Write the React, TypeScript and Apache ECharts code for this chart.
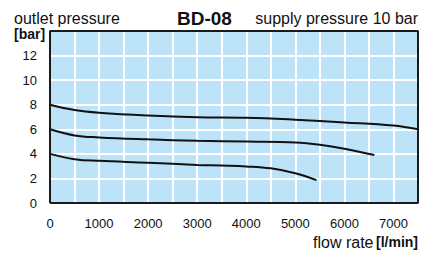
import React, { useEffect, useRef } from "react";
import * as echarts from "echarts";

const xTicks = [0, 1000, 2000, 3000, 4000, 5000, 6000, 7000];
const yTicks = [0, 2, 4, 6, 8, 10, 12];
const X_MAX = 7500;
const Y_MAX = 14;

const curve8: [number, number][] = [
  [0, 8.0], [500, 7.57], [1000, 7.35], [2000, 7.12], [3000, 6.98], [4000, 6.94],
  [5000, 6.78], [6000, 6.56], [7000, 6.3], [7500, 6.0],
];
const curve6: [number, number][] = [
  [0, 6.0], [500, 5.5], [1000, 5.34], [2000, 5.18], [3000, 5.06], [4000, 5.0],
  [5000, 4.92], [5500, 4.74], [6000, 4.42], [6610, 3.9],
];
const curve4: [number, number][] = [
  [0, 4.0], [500, 3.57], [1000, 3.43], [2000, 3.28], [3000, 3.1], [3500, 3.05],
  [4000, 2.98], [4500, 2.82], [5000, 2.42], [5430, 1.86],
];

const FONT = "'Liberation Sans', Arial, Helvetica, sans-serif";

export default function App() {
  const ref = useRef<HTMLDivElement>(null);
  useEffect(() => {
    if (!ref.current) return;
    const chart = echarts.init(ref.current, null, { renderer: "svg" });
    const line = (data: [number, number][]) => ({
      type: "line",
      data,
      smooth: 0.4,
      showSymbol: false,
      symbol: "none",
      lineStyle: { color: "#111", width: 2 },
      z: 5,
    });
    const splitWhite = { show: true, lineStyle: { color: "#fff", width: 2 } };
    const frameData: [number, number][] = [[0, 0], [X_MAX, 0], [X_MAX, Y_MAX], [0, Y_MAX], [0, 0]];
    chart.setOption({
      animation: false,
      backgroundColor: "#fff",
      grid: { left: 50, top: 31, width: 368, height: 172, show: true, backgroundColor: "#bde3f9", borderWidth: 0 },
      xAxis: {
        type: "value", min: 0, max: X_MAX, interval: 500,
        axisLine: { show: false }, axisTick: { show: false }, splitLine: splitWhite,
        axisLabel: {
          margin: 14, fontSize: 13, color: "#111", fontFamily: FONT,
          formatter: (v: number) => (xTicks.includes(v) ? String(v) : ""),
        },
      },
      yAxis: {
        type: "value", min: 0, max: Y_MAX, interval: 2,
        axisLine: { show: false }, axisTick: { show: false }, splitLine: splitWhite,
        axisLabel: {
          margin: 13, fontSize: 13, color: "#111", fontFamily: FONT,
          formatter: (v: number) => (yTicks.includes(v) ? String(v) : ""),
        },
      },
      graphic: {
        elements: [
          { type: "text", left: 14, top: 10, style: { text: "outlet pressure", font: `16px ${FONT}`, fill: "#111" } },
          { type: "text", left: 177, top: 9, style: { text: "BD-08", font: `bold 19px ${FONT}`, fill: "#111" } },
          { type: "text", right: 12, top: 10, style: { text: "supply pressure 10 bar", font: `16px ${FONT}`, fill: "#111" } },
          { type: "text", left: 14, top: 27, style: { text: "[bar]", font: `bold 14px ${FONT}`, fill: "#111" } },
          { type: "text", left: 313, top: 234, style: { text: "flow rate", font: `16px ${FONT}`, fill: "#111" } },
          { type: "text", right: 12, top: 235, style: { text: "[l/min]", font: `bold 14px ${FONT}`, fill: "#111" } },
        ],
      },
      series: [
        line(curve8),
        line(curve6),
        line(curve4),
        {
          type: "line", data: frameData, clip: false, showSymbol: false, symbol: "none",
          lineStyle: { color: "#1a1a1a", width: 2 }, z: 10, silent: true,
        },
      ],
    });
    return () => chart.dispose();
  }, []);
  return <div ref={ref} style={{ width: 430, height: 259, position: "absolute", left: 0, top: 0 }} />;
}
